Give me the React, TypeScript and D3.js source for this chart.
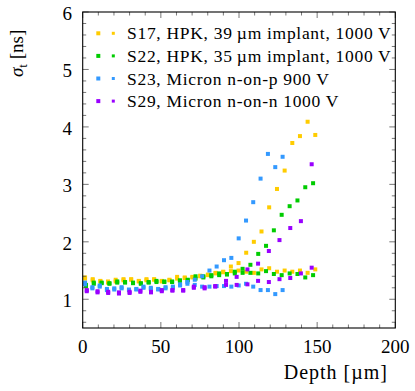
import React from 'react';
import { scaleLinear, range } from 'd3';

// depths [um] per sensor
const S17_DEPTH = [1.5, 6.4, 11.3, 16.2, 21.1, 26.1, 31.0, 35.9, 40.8, 45.7, 50.6, 55.5, 60.4, 65.3, 70.2, 75.2, 80.1, 85.0, 89.9, 94.8, 99.7, 104.6, 109.5, 114.4, 119.3, 124.3, 129.2, 134.1, 139.0, 143.9, 148.8];
const S22_DEPTH = [2.1, 7.1, 12.1, 17.1, 22.1, 27.1, 32.2, 37.2, 42.2, 47.2, 52.2, 57.2, 62.2, 67.2, 72.2, 77.2, 82.3, 87.3, 92.3, 97.3, 102.3, 107.3, 112.3, 117.3, 122.3, 127.3, 132.4, 137.4, 142.4, 147.4];
const S23_DEPTH = [1.5, 6.2, 10.9, 15.5, 20.2, 24.9, 29.6, 34.3, 38.9, 43.6, 48.3, 53.0, 57.7, 62.3, 67.0, 71.7, 76.4, 81.1, 85.7, 90.4, 95.1, 99.8, 104.5, 109.1, 113.8, 118.5, 123.2, 127.9];
const S29_DEPTH = [2.6, 9.5, 16.3, 23.2, 30.0, 36.9, 43.7, 50.6, 57.4, 64.3, 71.1, 78.0, 84.8, 91.7, 98.5, 105.4, 112.2, 119.1, 125.9, 132.8, 139.6, 146.5];

// sigma_t [ns], two measurements per depth
const S17_A = [1.38, 1.35, 1.32, 1.31, 1.34, 1.35, 1.35, 1.32, 1.35, 1.35, 1.32, 1.34, 1.39, 1.38, 1.39, 1.41, 1.43, 1.46, 1.48, 1.57, 1.63, 1.81, 2.00, 2.18, 2.60, 2.92, 3.24, 3.72, 3.84, 4.09, 3.86];
const S17_B = [1.36, 1.33, 1.31, 1.29, 1.31, 1.33, 1.34, 1.31, 1.33, 1.34, 1.31, 1.33, 1.36, 1.37, 1.38, 1.40, 1.42, 1.45, 1.47, 1.49, 1.50, 1.48, 1.46, 1.52, 1.54, 1.48, 1.50, 1.48, 1.50, 1.46, 1.52];
const S22_A = [1.25, 1.29, 1.29, 1.28, 1.31, 1.30, 1.29, 1.28, 1.30, 1.32, 1.31, 1.31, 1.33, 1.34, 1.40, 1.40, 1.42, 1.45, 1.44, 1.48, 1.53, 1.60, 1.79, 1.93, 2.20, 2.47, 2.62, 2.72, 2.95, 3.02];
const S22_B = [1.23, 1.27, 1.28, 1.27, 1.29, 1.29, 1.28, 1.27, 1.29, 1.30, 1.30, 1.30, 1.32, 1.33, 1.36, 1.38, 1.40, 1.42, 1.43, 1.45, 1.46, 1.46, 1.45, 1.49, 1.44, 1.42, 1.45, 1.44, 1.38, 1.42];
const S23_A = [1.29, 1.21, 1.24, 1.18, 1.19, 1.21, 1.17, 1.18, 1.22, 1.20, 1.18, 1.21, 1.22, 1.26, 1.30, 1.34, 1.40, 1.50, 1.57, 1.68, 1.72, 2.06, 2.37, 2.69, 3.10, 3.53, 3.30, 3.48];
const S23_B = [1.26, 1.19, 1.22, 1.16, 1.17, 1.19, 1.16, 1.17, 1.20, 1.18, 1.17, 1.19, 1.20, 1.24, 1.27, 1.25, 1.22, 1.22, 1.23, 1.23, 1.22, 1.24, 1.27, 1.22, 1.16, 1.16, 1.09, 1.16];
const S29_A = [1.16, 1.14, 1.13, 1.12, 1.13, 1.15, 1.13, 1.16, 1.16, 1.16, 1.22, 1.21, 1.23, 1.32, 1.39, 1.52, 1.62, 1.84, 2.03, 2.24, 2.36, 3.35];
const S29_B = [1.14, 1.12, 1.11, 1.10, 1.11, 1.13, 1.12, 1.14, 1.15, 1.15, 1.20, 1.19, 1.22, 1.25, 1.25, 1.26, 1.32, 1.30, 1.35, 1.37, 1.45, 1.55];

const LABELS = [
  'S17, HPK, 39\u2009\u00b5m implant, 1000 V',
  'S22, HPK, 35\u2009\u00b5m implant, 1000 V',
  'S23, Micron n-on-p 900 V',
  'S29, Micron n-on-n 1000 V',
];
const COLORS = ['#ffcc00', '#00cc00', '#3399ff', '#9900ff'];

const X_TICKS = [0, 50, 100, 150, 200];
const Y_TICKS = [1, 2, 3, 4, 5, 6];

const SERIES = [
  { depth: S17_DEPTH, vals: [S17_A, S17_B] },
  { depth: S22_DEPTH, vals: [S22_A, S22_B] },
  { depth: S23_DEPTH, vals: [S23_A, S23_B] },
  { depth: S29_DEPTH, vals: [S29_A, S29_B] },
];

const FONT = "'Liberation Serif', 'DejaVu Serif', serif";

export default function App() {
  const width = 415;
  const height = 391;
  const left = 82.7, right = 395.3, top = 12, bottom = 328;
  const x = scaleLinear().domain([0, 200]).range([left, right]);
  const y = scaleLinear().domain([0.5, 6]).range([bottom, top]);
  const ms = 4;

  const xMinor = range(0, 201, 10).filter(v => v % 50 !== 0);
  const yMinor = range(6, 60, 2).map(v => v / 10).filter(v => v % 1 !== 0);

  const tickStroke = '#555';

  return (
    <svg width={width} height={height} style={{ position: 'absolute', left: 0, top: 0, fontFamily: FONT }}>
      {/* data */}
      {SERIES.map((s, i) =>
        s.vals.map((vals, j) =>
          vals.map((v, k) => (
            <rect key={`${i}-${j}-${k}`} x={x(s.depth[k]) - ms / 2} y={y(v) - ms / 2}
              width={ms} height={ms} fill={COLORS[i]} />
          ))
        )
      )}

      {/* ticks, inward on all sides */}
      {xMinor.map(v => (
        <g key={`xm${v}`} stroke={tickStroke} strokeWidth={0.8}>
          <line x1={x(v)} x2={x(v)} y1={bottom} y2={bottom - 3.5} />
          <line x1={x(v)} x2={x(v)} y1={top} y2={top + 3.5} />
        </g>
      ))}
      {X_TICKS.map(v => (
        <g key={`xM${v}`} stroke={tickStroke} strokeWidth={0.8}>
          <line x1={x(v)} x2={x(v)} y1={bottom} y2={bottom - 6} />
          <line x1={x(v)} x2={x(v)} y1={top} y2={top + 6} />
        </g>
      ))}
      {yMinor.map(v => (
        <g key={`ym${v}`} stroke={tickStroke} strokeWidth={0.8}>
          <line x1={left} x2={left + 3.5} y1={y(v)} y2={y(v)} />
          <line x1={right} x2={right - 3.5} y1={y(v)} y2={y(v)} />
        </g>
      ))}
      {Y_TICKS.map(v => (
        <g key={`yM${v}`} stroke={tickStroke} strokeWidth={0.8}>
          <line x1={left} x2={left + 6} y1={y(v)} y2={y(v)} />
          <line x1={right} x2={right - 6} y1={y(v)} y2={y(v)} />
        </g>
      ))}

      <rect x={left} y={top} width={right - left} height={bottom - top} fill="none" stroke="#000" strokeWidth={1.1} />

      {/* tick labels */}
      {X_TICKS.map(v => (
        <text key={`xl${v}`} x={x(v)} y={353} textAnchor="middle" fontSize={19}>{v}</text>
      ))}
      {Y_TICKS.map(v => (
        <text key={`yl${v}`} x={72} y={y(v) + 8} textAnchor="end" fontSize={19}>{v}</text>
      ))}

      {/* axis labels */}
      <text x={388} y={379} textAnchor="end" fontSize={20} letterSpacing={1}>Depth [µm]</text>
      <text transform="translate(23,77) rotate(-90)" textAnchor="start" fontSize={19}>
        <tspan fontStyle="italic">σ</tspan>
        <tspan fontSize={13} dy={4}>t</tspan>
        <tspan dy={-4}> [ns]</tspan>
      </text>

      {/* legend */}
      {LABELS.map((label, i) => {
        const cy = 33.3 + i * 22.6;
        return (
          <g key={label}>
            <rect x={98.3 - 2} y={cy - 2} width={4} height={4} fill={COLORS[i]} />
            <rect x={113.3 - 1.5} y={cy - 1.5} width={3} height={3} fill={COLORS[i]} />
            <text x={127} y={cy + 6} fontSize={17.5} letterSpacing={0.7}>{label}</text>
          </g>
        );
      })}
    </svg>
  );
}
